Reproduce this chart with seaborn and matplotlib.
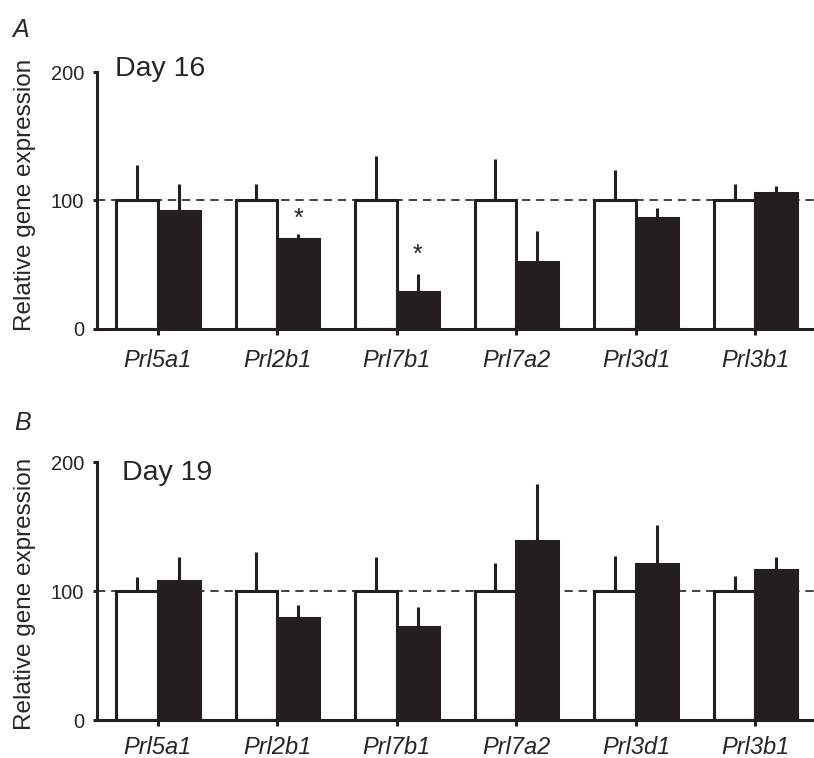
import matplotlib
matplotlib.use("Agg")
import matplotlib.pyplot as plt
import seaborn as sns
import pandas as pd

sns.set_style("white")
plt.rcParams['font.family'] = ['Liberation Sans', 'DejaVu Sans']

genes = ["Prl5a1", "Prl2b1", "Prl7b1", "Prl7a2", "Prl3d1", "Prl3b1"]

# Day 16
d16_ctrl = [100, 100, 100, 100, 100, 100]
d16_ctrl_err = [28, 13, 35, 32, 24, 13]
d16_trt = [92, 70, 29, 52, 86, 106]
d16_trt_err = [21, 4, 14, 24, 8, 5]
d16_star_y = [None, 86, 58, None, None, None]

# Day 19
d19_ctrl = [100, 100, 100, 100, 100, 100]
d19_ctrl_err = [11, 30, 26, 22, 27, 12]
d19_trt = [108, 79, 72, 139, 121, 116]
d19_trt_err = [18, 10, 16, 44, 30, 10]
d19_star_y = [None, None, None, None, None, None]

yticks = [0, 100, 200]
DARK = "#231f20"

fig = plt.figure(figsize=(8.14, 7.58), dpi=100)
axA = fig.add_axes([0.119, 0.566, 0.881, 0.339])
axB = fig.add_axes([0.119, 0.050, 0.881, 0.3405])


def panel(ax, ctrl, ctrl_err, trt, trt_err, star_y, day_text, day_xy, xpad, ylab_y):
    df = pd.DataFrame({
        "gene": genes * 2,
        "group": ["Control"] * len(genes) + ["Treated"] * len(genes),
        "value": list(ctrl) + list(trt),
    })
    sns.barplot(data=df, x="gene", y="value", hue="group",
                palette={"Control": "white", "Treated": DARK},
                width=0.7, errorbar=None, edgecolor=DARK, linewidth=2.2,
                saturation=1, legend=False, ax=ax, zorder=2)
    ax.axhline(100, color=DARK, lw=1.2, ls=(0, (5, 3.5)), zorder=1)
    for i, (cont, err) in enumerate(zip(ax.containers, [ctrl_err, trt_err])):
        xs = [p.get_x() + p.get_width() / 2 for p in cont.patches]
        tops = [p.get_height() for p in cont.patches]
        ax.errorbar(xs, tops, yerr=[[0] * len(err), err], fmt="none",
                    ecolor=DARK, elinewidth=2.2, capsize=0, zorder=3)
        if i == 1:
            for x, sy in zip(xs, star_y):
                if sy is not None:
                    ax.text(x, sy, "*", ha="center", va="center",
                            fontsize=18, color=DARK)
    ax.set_xlim(-0.51, 5.49)
    ax.set_ylim(0, 200)
    ax.set_yticks(yticks)
    ax.set_yticklabels([str(v) for v in yticks], fontsize=14.5)
    ax.set_xticks(range(len(genes)))
    ax.set_xticklabels(genes, fontsize=17, style="italic")
    ax.set_xlabel("")
    ax.set_ylabel("Relative gene expression", fontsize=17.5)
    ax.yaxis.set_label_coords(-0.085, ylab_y)
    for s in ["top", "right"]:
        ax.spines[s].set_visible(False)
    for s in ["left", "bottom"]:
        ax.spines[s].set_linewidth(2.2)
        ax.spines[s].set_color(DARK)
        ax.spines[s].set_zorder(4)
    ax.spines["left"].set_bounds(0, 200)
    ax.tick_params(axis="y", direction="out", length=3, width=2.2,
                   color=DARK, pad=6, left=True)
    ax.tick_params(axis="x", direction="out", length=4, width=2.2,
                   color=DARK, pad=xpad, bottom=True)
    ax.text(day_xy[0], day_xy[1], day_text, transform=ax.transAxes,
            fontsize=20.5, va="baseline", ha="left")


panel(axA, d16_ctrl, d16_ctrl_err, d16_trt, d16_trt_err, d16_star_y, "Day 16", (0.025, 0.984), 10.5, 0.52)
panel(axB, d19_ctrl, d19_ctrl_err, d19_trt, d19_trt_err, d19_star_y, "Day 19", (0.035, 0.93), 7.5, 0.49)

fig.text(0.015, 0.951, "A", fontsize=18, style="italic", va="baseline")
fig.text(0.017, 0.433, "B", fontsize=18, style="italic", va="baseline")

fig.savefig("out.png", dpi=100)
